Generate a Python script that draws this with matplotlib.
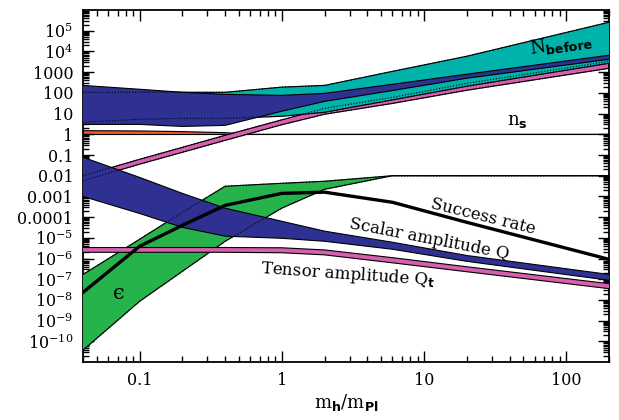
import numpy as np
import matplotlib.pyplot as plt
from matplotlib.ticker import FixedLocator, LogLocator, NullFormatter

plt.rcParams["font.family"] = ["DejaVu Serif", "DejaVu Sans"]
plt.rcParams["mathtext.fontset"] = "custom"
plt.rcParams["mathtext.rm"] = "DejaVu Serif"
plt.rcParams["mathtext.it"] = "DejaVu Serif:italic"
plt.rcParams["mathtext.bf"] = "DejaVu Sans:bold"
plt.rcParams["mathtext.default"] = "rm"

# common x nodes (m_h / m_Pl)
x_nodes = [0.04, 0.1, 0.2, 0.4, 1, 2, 6, 20, 200]

# N_before (cyan) and the dark blue band lying on it
nbefore_top = [107, 107, 107, 107, 190, 230, 1100, 5900, 2.6e5]
nbefore_bot = [3.8, 5.3, 5.9, 5.9, 7.4, 11.6, 46, 210, 2700]
ntot_top = [230, 150, 107, 85, 76, 95, 260, 800, 6600]
ntot_bot = [3.0, 3.0, 2.4, 2.7, 13, 39, 130, 510, 4200]

# rising magenta band
rise_top = [9.9e-3, 0.062, 0.235, 0.90, 5.0, 18, 61, 290, 3360]
rise_bot = [5.7e-3, 0.036, 0.135, 0.51, 2.9, 9.3, 31, 134, 1540]

# n_s
ns_x = [0.04, 0.1, 0.2, 0.4, 0.6, 200]
ns_top = [1.5, 1.45, 1.35, 1.2, 1.0, 1.0]
ns_bot = [1.0, 1.0, 1.0, 1.0, 1.0, 1.0]

# scalar amplitude Q
scalar_top = [0.078, 8.3e-3, 1.4e-3, 2.7e-4, 6.3e-5, 2.1e-5, 6.1e-6, 1.4e-6, 1.7e-7]
scalar_bot = [1e-3, 1.5e-4, 3.2e-5, 1.2e-5, 9.5e-6, 6.8e-6, 2.8e-6, 7.3e-7, 8.9e-8]

# epsilon
eps_top = [1.7e-7, 8.5e-6, 1.7e-4, 3.1e-3, 4.3e-3, 5.4e-3, 0.01, 0.01, 0.01]
eps_bot = [3.7e-11, 8.5e-9, 2.4e-7, 6.8e-6, 2.7e-4, 2.2e-3, 0.01, 0.01, 0.01]

# tensor amplitude Q_t
tensor_top = [3.4e-6, 3.4e-6, 3.4e-6, 3.4e-6, 3.3e-6, 2.6e-6, 1.1e-6, 4.0e-7, 6.1e-8]
tensor_bot = [2.0e-6, 2.0e-6, 2.0e-6, 2.0e-6, 1.9e-6, 1.5e-6, 6.2e-7, 2.3e-7, 3.5e-8]

# success rate
success = [2.3e-8, 3.9e-6, 4.0e-5, 3.7e-4, 1.4e-3, 1.6e-3, 5.2e-4, 5.6e-5, 9.1e-7]

y_ticks = 10.0 ** np.arange(-10, 6)
y_labels = ["$10^{-10}$", "$10^{-9}$", "$10^{-8}$", "$10^{-7}$", "$10^{-6}$",
            "$10^{-5}$", "0.0001", "0.001", "0.01", "0.1", "1", "10", "100",
            "1000", "$10^{4}$", "$10^{5}$"]
x_ticks = [0.1, 1, 10, 100]
x_labels = ["0.1", "1", "10", "100"]

CYAN = "#00b3aa"
BLUE = "#2e3192"
GREEN = "#27b34b"
MAGENTA = "#d65fb0"
ORANGE = "#f05a28"

fig = plt.figure(figsize=(6.19, 4.20), dpi=100)
ax = fig.add_axes([0.134, 0.138, 0.850, 0.838])
ax.set_xscale("log")
ax.set_yscale("log")


def band(x, lo, hi, color, z):
    ax.fill_between(x, lo, hi, facecolor=color, edgecolor="none", zorder=z)
    ax.plot(x, lo, color="k", lw=0.8, zorder=z + 0.1)
    ax.plot(x, hi, color="k", lw=0.8, zorder=z + 0.1)


def hidden(x, lo, hi, z):
    # edges that run underneath another band are drawn dotted
    for e in (lo, hi):
        ax.plot(x, e, color="k", lw=0.8, ls=(0, (1, 1.6)), zorder=z)


# upper group
band(ns_x, ns_bot, ns_top, ORANGE, 1)
band(x_nodes, rise_bot, rise_top, MAGENTA, 2)
band(x_nodes, nbefore_bot, nbefore_top, CYAN, 3)
band(x_nodes, ntot_bot, ntot_top, BLUE, 4)
hidden(x_nodes, nbefore_bot, nbefore_top, 5)

# lower group
band(x_nodes, eps_bot, eps_top, GREEN, 6)
band(x_nodes, scalar_bot, scalar_top, BLUE, 7)
hidden(x_nodes, eps_bot, eps_top, 8)
hidden(x_nodes, rise_bot, rise_top, 8)
band(x_nodes, tensor_bot, tensor_top, MAGENTA, 9)
ax.plot(x_nodes, success, color="k", lw=2.4, zorder=10, solid_joinstyle="miter")

ax.set_xlim(0.04, 200)
ax.set_ylim(1e-11, 1e6)

ax.yaxis.set_major_locator(FixedLocator(y_ticks))
ax.set_yticklabels(y_labels)
ax.yaxis.set_minor_locator(LogLocator(base=10, subs=range(2, 10), numticks=100))
ax.yaxis.set_minor_formatter(NullFormatter())
ax.xaxis.set_major_locator(FixedLocator(x_ticks))
ax.set_xticklabels(x_labels)
ax.xaxis.set_minor_locator(LogLocator(base=10, subs=range(2, 10), numticks=100))
ax.xaxis.set_minor_formatter(NullFormatter())

ax.tick_params(which="both", direction="in", top=True, right=True, width=1)
ax.tick_params(which="major", length=8, labelsize=11.5, pad=7)
ax.tick_params(which="minor", length=4)
for s in ax.spines.values():
    s.set_linewidth(1.3)

ax.set_xlabel(r"$\mathrm{m}_{\mathbf{h}}/\mathrm{m}_{\mathbf{Pl}}$", fontsize=13, labelpad=2)

ax.text(92, 2.2e4, r"$\mathrm{N}_{\mathbf{before}}$", fontsize=13, rotation=8,
        ha="center", va="center", zorder=12)
ax.text(45, 4.2, r"$\mathrm{n}_{\mathbf{s}}$", fontsize=13, ha="center", va="center", zorder=12)
ax.text(26, 1.1e-4, "Success rate", fontsize=12, rotation=-14,
        ha="center", va="center", zorder=12)
ax.text(10.8, 8.5e-6, "Scalar amplitude Q", fontsize=12, rotation=-11,
        ha="center", va="center", zorder=12)
ax.text(2.9, 1.7e-7, r"Tensor amplitude $\mathrm{Q}_{\mathbf{t}}$", fontsize=12,
        rotation=-4, ha="center", va="center", zorder=12)
ax.text(0.072, 2.1e-8, "\u03f5", fontsize=15, ha="center", va="center", zorder=12)

fig.savefig("out.png", dpi=100)
